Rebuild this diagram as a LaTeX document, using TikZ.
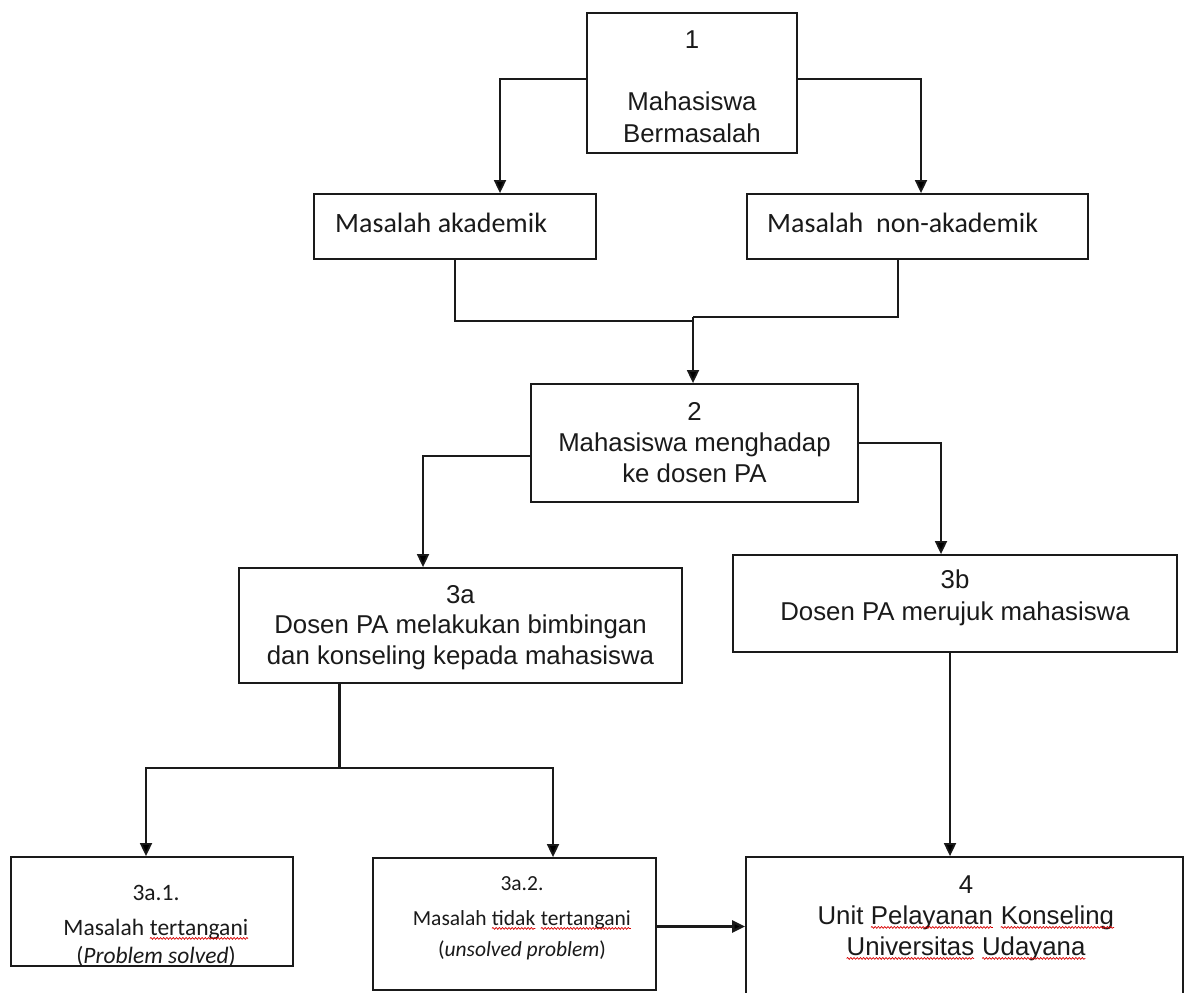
\documentclass[tikz,border=0pt]{standalone}
\usepackage{fontspec}
\setmainfont{Liberation Sans}
\newfontfamily\calibri{Carlito}
\usetikzlibrary{arrows.meta,decorations.pathmorphing}
\definecolor{ink}{HTML}{1A1A1A}
\newcommand\spellerr[1]{\tikz[baseline=(w.base)]{\node[inner sep=0pt,outer sep=0pt] (w) {#1};\draw[red!85!black,line width=0.7pt,decorate,decoration={snake,amplitude=0.9pt,segment length=3.2pt}] ([yshift=-3.2pt]w.base west) -- ([yshift=-3.2pt]w.base east);}}
\begin{document}
\begin{tikzpicture}[x=1pt,y=-1pt,
  box/.style={draw=ink, line width=1.8pt, rectangle, inner sep=0pt},
  txt/.style={inner sep=0pt, align=center, anchor=north, text=ink},
  arr/.style={draw=ink, line width=1.8pt, -{Triangle[length=13pt,width=12pt]}},
  ln/.style={draw=ink, line width=1.8pt},
  thickln/.style={draw=ink, line width=3pt},
  arialA/.style={font=\fontsize{25.8}{32}\selectfont},
  arialB/.style={font=\fontsize{25.8}{31}\selectfont},
  arialC/.style={font=\fontsize{25.8}{30.5}\selectfont},
  calA/.style={font=\calibri\fontsize{28}{34}\selectfont},
  calB/.style={font=\calibri\fontsize{23.5}{28}\selectfont},
  calC/.style={font=\calibri\fontsize{21.5}{31}\selectfont}
]
\useasboundingbox (0,0) rectangle (1186,993);
\clip (0,0) rectangle (1186,993);
\fill[white] (0,0) rectangle (1186,993);

% boxes
\node[box, minimum width=210pt, minimum height=140pt] (b1) at (692,83) {};
\node[box, minimum width=282pt, minimum height=65pt] (ak) at (455,226.5) {};
\node[box, minimum width=341pt, minimum height=65pt] (na) at (917.5,226.5) {};
\node[box, minimum width=327pt, minimum height=118pt] (b2) at (694.5,443) {};
\node[box, minimum width=443pt, minimum height=115pt] (a3) at (460.5,625.5) {};
\node[box, minimum width=444pt, minimum height=97pt] (b3) at (955,603.5) {};
\node[box, minimum width=282pt, minimum height=109pt] (r1) at (152,911.5) {};
\node[box, minimum width=283pt, minimum height=132pt] (r2) at (514.5,924) {};
\node[box, minimum width=437pt, minimum height=153pt] (b4) at (964.5,933.5) {};

% texts
\node[txt, arialA] (t1) at (692,28) {\rule{0pt}{20pt}1\\[30pt]Mahasiswa\\Bermasalah};
\node[anchor=base west, inner sep=0pt, text=ink, calA] (tak) at (335,232) {Masalah akademik};
\node[anchor=base west, inner sep=0pt, text=ink, calA] (tna) at (767,232) {Masalah\ \ non-akademik};
\node[txt, arialB] (t2) at (694.5,400) {\rule{0pt}{20pt}2\\Mahasiswa menghadap\\ke dosen PA};
\node[txt, arialC] (t3a) at (460.5,583) {\rule{0pt}{20pt}3a\\Dosen PA melakukan bimbingan\\dan konseling kepada mahasiswa};
\node[txt, arialA] (t3b) at (955,568) {\rule{0pt}{20pt}3b\\Dosen PA merujuk mahasiswa};
\node[txt, calB] (t31) at (156,881) {\rule{0pt}{19pt}3a.1.\\[7pt]Masalah \spellerr{tertangani}\\(\textit{Problem solved})};
\node[txt, calC] (t32) at (522,873) {\rule{0pt}{17pt}3a.2.\\[4pt]Masalah \spellerr{tidak} \spellerr{tertangani}\\(\textit{unsolved problem})};
\node[txt, arialB] (t4) at (966,873) {\rule{0pt}{20pt}4\\Unit \spellerr{Pelayanan} \spellerr{Konseling}\\\spellerr{Universitas} \spellerr{Udayana}};

% helper coordinates
\coordinate (jL) at (693,321);
\coordinate (jR) at (693,317);
\coordinate (s) at (339,768);
\coordinate (p3b) at ([xshift=-5pt]b3.south);
\coordinate (p32) at ([yshift=-2.5pt]r2.east);

% connectors
\draw[arr] ([yshift=4pt]b1.west) -| ([xshift=45pt]ak.north);
\draw[arr] ([yshift=4pt]b1.east) -| ([xshift=3.5pt]na.north);
\draw[ln] (ak.south) |- (jL);
\draw[ln] ([xshift=-19.5pt]na.south) |- (jR);
\draw[arr] (jR) -- (jR |- b2.north);
\draw[arr] ([yshift=-13pt]b2.west) -| ([xshift=-37.5pt]a3.north);
\draw[arr] (b2.east) -| ([xshift=-14pt]b3.north);
\draw[thickln] (a3.south -| s) -- (s);
\draw[arr] (s) -| ([xshift=-6pt]r1.north);
\draw[arr] (s) -| ([xshift=38.5pt]r2.north);
\draw[arr] (p3b) -- (p3b |- b4.north);
\draw[arr, line width=2.4pt] (p32) -- (p32 -| b4.west);
\end{tikzpicture}
\end{document}
